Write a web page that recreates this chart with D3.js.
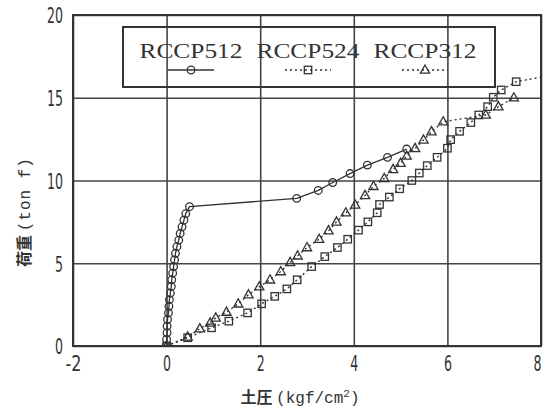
<!DOCTYPE html>
<html><head><meta charset="utf-8">
<script src="https://cdn.jsdelivr.net/npm/d3@7"></script>
<style>body{margin:0;background:#fff}</style>
</head><body>
<svg id="c" width="546" height="415"></svg>
<script>
// ---- data ----
const xTicks = [-2, 0, 2, 4, 6, 8];
const yTicks = [0, 5, 10, 15, 20];
const seriesNames = ["RCCP512", "RCCP524", "RCCP312"];

const rccp512X = [0,0,0.01,0.01,0.02,0.04,0.05,0.06,0.08,0.10,0.11,0.13,0.15,0.17,0.19,0.22,0.26,0.29,0.33,0.37,0.41,0.49,2.78,3.24,3.55,3.92,4.29,4.72,5.13];
const rccp512Y = [0,0.4,0.8,1.2,1.6,2.0,2.4,2.8,3.2,3.6,4.0,4.4,4.8,5.2,5.6,6.0,6.4,6.8,7.2,7.6,8.0,8.42,8.92,9.4,9.88,10.42,10.93,11.4,11.9];

const rccp524X = [0,0.45,0.96,1.33,1.73,2.03,2.31,2.57,2.79,3.1,3.38,3.65,3.87,4.1,4.3,4.5,4.55,4.76,4.98,5.24,5.4,5.57,5.78,6.0,6.07,6.26,6.5,6.67,6.86,6.98,7.15,7.47,8.3];
const rccp524Y = [0,0.5,1.1,1.5,2.0,2.55,3.0,3.45,4.0,4.8,5.4,5.95,6.45,7.0,7.5,8.05,8.55,9.0,9.5,10.0,10.45,10.9,11.4,11.95,12.47,12.97,13.5,13.96,14.46,15.03,15.47,15.97,16.4];

const rccp312X = [0,0.45,0.71,0.93,1.05,1.28,1.53,1.75,1.98,2.21,2.44,2.64,2.8,3.0,3.26,3.46,3.63,3.83,4.03,4.24,4.42,4.65,4.84,5.0,5.13,5.31,5.49,5.66,5.91,6.82,7.09,7.42];
const rccp312Y = [0,0.55,1.05,1.4,1.7,2.05,2.55,3.1,3.58,4.0,4.5,5.05,5.45,5.95,6.45,6.97,7.5,8.05,8.52,9.1,9.65,10.13,10.67,11.05,11.48,11.94,12.45,12.95,13.55,13.96,14.46,15.0];

// ---- drawing ----
const svg = d3.select("#c");
const ink = "#333";
const L = 73, R = 541, T = 15, B = 346;
const x = d3.scaleLinear().domain([-2, 8]).range([L, R]);
const y = d3.scaleLinear().domain([0, 20]).range([B, T]);

svg.append("rect").attr("width", 546).attr("height", 415).attr("fill", "#fff");

svg.append("defs").append("clipPath").attr("id", "clip")
  .append("rect").attr("x", L).attr("y", T).attr("width", R - L).attr("height", B - T);

// grid via axes
const gx = svg.append("g").attr("transform", `translate(0,${B})`)
  .call(d3.axisBottom(x).tickValues(xTicks).tickSize(-(B - T)).tickPadding(0).tickFormat(d => d));
const gy = svg.append("g").attr("transform", `translate(${L},0)`)
  .call(d3.axisLeft(y).tickValues(yTicks).tickSize(-(R - L)).tickPadding(10).tickFormat(d => d));
[gx, gy].forEach(g => {
  g.select(".domain").remove();
  g.selectAll(".tick line").attr("stroke", "#444").attr("stroke-width", 1.6);
  g.selectAll(".tick text")
    .attr("fill", ink)
    .style("font-family", "'Liberation Sans Narrow','DejaVu Sans Condensed',sans-serif")
    .style("font-size", "22px")
    .attr("textLength", function(d){ return String(d).length * 8; })
    .attr("lengthAdjust", "spacingAndGlyphs");
});
gx.selectAll(".tick text").attr("y", 9).attr("dy", "0.71em");
gx.selectAll(".tick text").filter(d => +d === 8).attr("x", -4);
gy.selectAll(".tick text").attr("dy", "0.36em");

// frame
svg.append("rect").attr("x", L).attr("y", T).attr("width", R - L).attr("height", B - T)
  .attr("fill", "none").attr("stroke", ink).attr("stroke-width", 2);

// series
const plot = svg.append("g").attr("clip-path", "url(#clip)");
const line = d3.line().x(d => x(d[0])).y(d => y(d[1]));
const zip = (a, b) => a.map((v, i) => [v, b[i]]);
const s512 = zip(rccp512X, rccp512Y), s524 = zip(rccp524X, rccp524Y), s312 = zip(rccp312X, rccp312Y);

plot.append("path").datum(s512).attr("d", line).attr("fill", "none").attr("stroke", ink).attr("stroke-width", 1.3);
plot.append("path").datum(s524).attr("d", line).attr("fill", "none").attr("stroke", ink).attr("stroke-width", 1.4).attr("stroke-dasharray", "2,3");
plot.append("path").datum(s312).attr("d", line).attr("fill", "none").attr("stroke", ink).attr("stroke-width", 1.4).attr("stroke-dasharray", "2,3");

function circ(g, cx, cy) { g.append("circle").attr("cx", cx).attr("cy", cy).attr("r", 3.8).attr("fill", "none").attr("stroke", ink).attr("stroke-width", 1.3); }
function sq(g, cx, cy) { g.append("rect").attr("x", cx - 3.7).attr("y", cy - 3.7).attr("width", 7.4).attr("height", 7.4).attr("fill", "none").attr("stroke", ink).attr("stroke-width", 1.3); }
function tri(g, cx, cy) { g.append("path").attr("d", `M${cx},${cy - 5}L${cx + 4.6},${cy + 3.2}L${cx - 4.6},${cy + 3.2}Z`).attr("fill", "none").attr("stroke", ink).attr("stroke-width", 1.3); }

s512.forEach(d => circ(plot, x(d[0]), y(d[1])));
s524.forEach(d => sq(plot, x(d[0]), y(d[1])));
s312.forEach(d => tri(plot, x(d[0]), y(d[1])));

// legend
const lg = svg.append("g");
lg.append("rect").attr("x", 123).attr("y", 27).attr("width", 372).attr("height", 60)
  .attr("fill", "none").attr("stroke", ink).attr("stroke-width", 2);
const legCx = [191, 308, 425];
const markers = [circ, sq, tri];
seriesNames.forEach((n, i) => {
  lg.append("text").attr("x", legCx[i]).attr("y", 58).attr("text-anchor", "middle")
    .attr("fill", ink).style("font-family", "'Liberation Serif',serif").style("font-size", "22px")
    .attr("textLength", 103).attr("lengthAdjust", "spacingAndGlyphs").text(n);
  const ln = lg.append("line").attr("x1", legCx[i] - 23).attr("x2", legCx[i] + 23)
    .attr("y1", 70).attr("y2", 70).attr("stroke", ink).attr("stroke-width", 1.3);
  if (i > 0) ln.attr("stroke-dasharray", "2,3");
  markers[i](lg, legCx[i], 70);
});

// axis titles
const mono = "'Liberation Mono','DejaVu Sans Mono',monospace";
const xt = svg.append("text").attr("x", 300).attr("y", 403).attr("text-anchor", "middle")
  .attr("fill", ink).style("font-family", "'Noto Sans CJK JP',sans-serif").style("font-size", "16px").style("font-weight", "bold");
xt.append("tspan").text("土圧 ");
xt.append("tspan").style("font-family", mono).style("font-weight", "normal").text("(kgf/cm");
xt.append("tspan").attr("dy", -6).style("font-size", "11px").style("font-weight", "normal").style("font-family", mono).text("2");
xt.append("tspan").attr("dy", 6).style("font-family", mono).style("font-weight", "normal").text(")");

const yt = svg.append("text").attr("transform", "translate(24,212) rotate(-90)").attr("text-anchor", "middle")
  .attr("dy", "0.35em").attr("fill", ink).style("font-family", "'Noto Sans CJK JP',sans-serif").style("font-size", "16px").style("font-weight", "bold");
yt.append("tspan").text("荷重 ");
yt.append("tspan").style("font-family", mono).style("font-weight", "normal").style("letter-spacing", "1px").text("(ton f)");
</script>
</body></html>
